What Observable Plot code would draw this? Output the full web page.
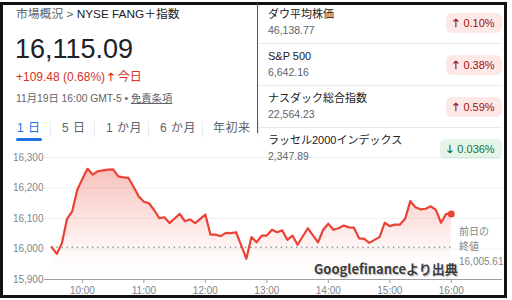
<!DOCTYPE html>
<html><head><meta charset="utf-8">
<script src="https://cdn.jsdelivr.net/npm/d3@7"></script>
<script src="https://cdn.jsdelivr.net/npm/@observablehq/plot@0.6"></script>
<style>
html,body{margin:0;padding:0;background:#fff;width:512px;height:300px;overflow:hidden;}
body{position:relative;font-family:"Liberation Sans",Arial,"Noto Sans CJK JP",sans-serif;}
.a{position:absolute;white-space:nowrap;line-height:1;}
.frame{position:absolute;left:0;top:2px;width:501px;height:290px;border:3px solid #111;}
.badge{position:absolute;border-radius:6px;font-size:11px;line-height:1;display:flex;align-items:center;justify-content:center;}
.up{background:#fce8e6;color:#a50e0e;}
.dn{background:#e6f4ea;color:#137333;}
#chart{position:absolute;left:0;top:140px;}
</style></head>
<body>
<div class="frame"></div>
<div id="panel"></div>
<div id="chart"></div>
<script>
// ---------- data ----------
const indexName = "NYSE FANG＋指数";
const lastValue = "16,115.09";
const changeText = "+109.48 (0.68%)";
const dateText = "11月19日 16:00 GMT-5";
const tabs = ["1 日", "5 日", "1 か月", "6 か月", "年初来"];
const otherNames = ["ダウ平均株価", "S&P 500", "ナスダック総合指数", "ラッセル2000インデックス"];
const otherValues = ["46,138.77", "6,642.16", "22,564.23", "2,347.89"];
const otherChanges = ["0.10%", "0.38%", "0.59%", "0.036%"];
const otherDirections = ["up", "up", "up", "down"];

const times = ["09:30","09:35","09:40","09:45","09:50","09:55","10:00","10:05","10:10","10:15","10:20","10:25","10:30","10:35","10:40","10:45","10:50","10:55",
"11:00","11:05","11:10","11:15","11:20","11:25","11:30","11:35","11:40","11:45","11:50","11:55",
"12:00","12:05","12:10","12:15","12:20","12:25","12:30","12:35","12:40","12:45","12:50","12:55",
"13:00","13:05","13:10","13:15","13:20","13:25","13:30","13:35","13:40","13:45","13:50","13:55",
"14:00","14:05","14:10","14:15","14:20","14:25","14:30","14:35","14:40","14:45","14:50","14:55",
"15:00","15:05","15:10","15:15","15:20","15:25","15:30","15:35","15:40","15:45","15:50","15:55","16:00"];
const values = [16006,15984,16019,16099,16123,16194,16230,16263,16244,16255,16258,16260,16261,16238,16235,16233,16203,16172,
16155,16150,16128,16101,16104,16085,16100,16115,16091,16097,16085,16099,
16113,16047,16047,16042,16053,16052,16055,16012,15968,16039,16022,16044,
16044,16063,16055,16061,16030,16044,16014,16041,16068,16045,16022,16063,
16083,16063,16068,16077,16071,16070,16035,16033,16020,16030,16039,16086,
16075,16080,16080,16099,16157,16137,16130,16132,16140,16128,16086,16115,16115];
const prevClose = 16005.61;
const prevCloseLabel = ["前日の", "終値", "16,005.61"];
const yTicks = [15900, 16000, 16100, 16200, 16300];
const xTickLabels = ["10:00","11:00","12:00","13:00","14:00","15:00","16:00"];
const sourceNote = "Googlefinanceより出典";

// ---------- header panels ----------
const panel = document.getElementById("panel");
function add(html, style, cls="a") {
  const d = document.createElement("div");
  d.className = cls; d.innerHTML = html; d.setAttribute("style", style);
  panel.appendChild(d); return d;
}
add(`<span style="color:#5f6368">市場概況 &gt; </span><span style="color:#202124">${indexName}</span>`, "left:16px;top:9px;font-size:11.8px;");
add(lastValue, "left:15px;top:36px;font-size:27px;color:#202124;");
add(`${changeText} <b style="font-size:11px">🡑</b> 今日`, "left:16px;top:71px;font-size:12px;color:#d93025;");
add(`${dateText} • <span style="text-decoration:underline">免責条項</span>`, "left:16px;top:94px;font-size:10.3px;color:#5f6368;");

// tabs
const tabX = [17, 62, 106, 160, 213];
const tabSep = [50, 94, 148, 202, 258];
tabs.forEach((s, i) => add(s, `left:${tabX[i]}px;top:122px;font-size:12px;color:${i===0?"#1a73e8":"#5f6368"};letter-spacing:0.5px;`));
tabSep.forEach(x => add("", `left:${x}px;top:121px;width:1px;height:16px;background:#e8eaed;`));
add("", "left:16px;top:138px;width:26px;height:3px;border-radius:2px;background:#1a73e8;");

// right panel
add("", "left:257px;top:3px;width:1px;height:130px;background:#555;");
const rowY = [15, 57, 99, 141];
otherNames.forEach((n, i) => {
  const y = rowY[i];
  add(n, `left:268px;top:${y-6}px;font-size:11px;color:#202124;`);
  add(otherValues[i], `left:268px;top:${y+10}px;font-size:10.5px;color:#5f6368;`);
  const up = otherDirections[i] === "up";
  const w = up ? 56 : 62;
  add(`<span style="font-weight:bold;margin-right:4px">${up ? "🡑" : "🡓"}</span>${otherChanges[i]}`,
      `left:${502-w}px;top:${y-2}px;width:${w}px;height:20px;`, "badge " + (up ? "up" : "dn"));
  if (i < 3) add("", `left:258px;top:${y+28}px;width:244px;height:1px;background:#e8eaed;`);
});

// ---------- chart ----------
const t = s => { const [h, m] = s.split(":").map(Number); return new Date(2025, 10, 19, h, m); };
const data = times.map((s, i) => ({time: t(s), value: values[i]}));
const red = "#ea4335";
function gradientDefs() {
  const defs = document.createElementNS("http://www.w3.org/2000/svg", "defs");
  defs.innerHTML = `<linearGradient id="fangGrad" x1="0" y1="0" x2="0" y2="1">
    <stop offset="0" stop-color="${red}" stop-opacity="0.33"/>
    <stop offset="0.8" stop-color="${red}" stop-opacity="0.02"/>
    <stop offset="1" stop-color="${red}" stop-opacity="0"/></linearGradient>`;
  return defs;
}
const chart = Plot.plot({
  width: 512, height: 160,
  marginTop: 17, marginBottom: 21, marginLeft: 44, marginRight: 10,
  style: {fontFamily: "'Liberation Sans', Arial, sans-serif", fontSize: "10px", color: "#70757a", background: "transparent", overflow: "visible"},
  x: {type: "time", domain: [t("09:23"), t("16:50")]},
  y: {domain: [15900, 16300]},
  marks: [
    gradientDefs,
    Plot.gridY(yTicks.slice(1), {stroke: "#000", strokeOpacity: 0.06}),
    Plot.areaY(data, {x: "time", y1: () => 15900, y2: "value", fill: "url(#fangGrad)"}),
    Plot.ruleY([{v: prevClose, a: t(times[0]), b: t(times[times.length-1])}], {y: "v", x1: "a", x2: "b", stroke: "#9aa0a6", strokeWidth: 1.5, strokeDasharray: "1.5 3.6"}),
    Plot.ruleY([15900], {stroke: "#9aa0a6"}),
    Plot.lineY(data, {x: "time", y: "value", stroke: red, strokeWidth: 2.2, strokeLinejoin: "round"}),
    Plot.dot(data.slice(-1), {x: "time", y: "value", r: 3.5, fill: red}),
    Plot.axisY({ticks: yTicks, tickFormat: d3.format(","), tickSize: 0, tickPadding: 1, label: null, fill: "#80868b"}),
    Plot.axisX({ticks: xTickLabels.map(t), tickFormat: d3.timeFormat("%H:%M"), tickSize: 4, tickPadding: 3, label: null, stroke: "#9aa0a6", fill: "#80868b"})
  ]
});
document.getElementById("chart").appendChild(chart);

// previous close label and source note
prevCloseLabel.forEach((s, i) => add(s, `left:459px;top:${227 + i*15}px;font-size:10px;color:#80868b;`));
add(sourceNote, "left:314px;top:262px;font-size:13px;font-weight:bold;color:#3a3a3a;text-shadow:0 0 2px #fff,0 0 2px #fff,1px 1px 1px #999;font-family:'Noto Sans CJK JP','Liberation Sans',sans-serif;");
</script>
</body></html>
